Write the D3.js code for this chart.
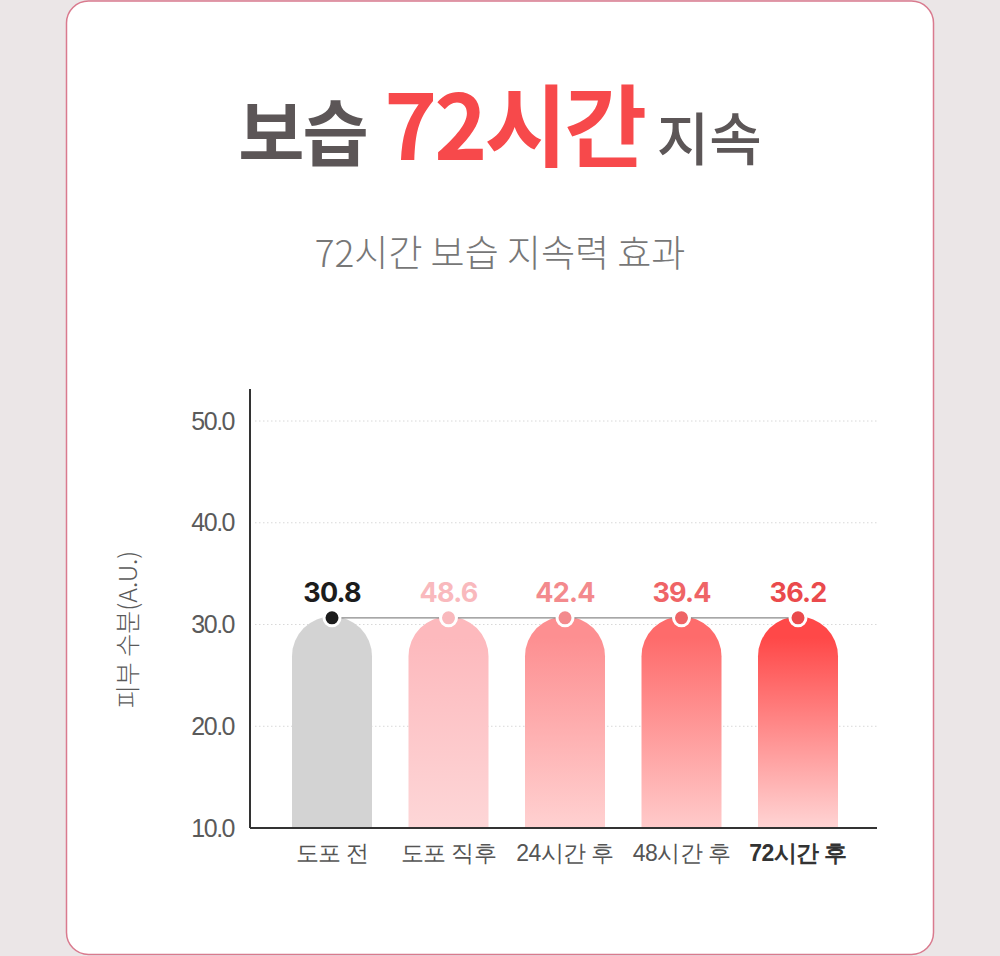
<!DOCTYPE html>
<html>
<head>
<meta charset="utf-8">
<script src="https://cdn.jsdelivr.net/npm/d3@7"></script>
<style>
  html, body { margin: 0; padding: 0; background: #ebe6e7; }
  svg { display: block; font-family: "Noto Sans CJK KR", "Noto Sans", sans-serif; }
</style>
</head>
<body>
<div id="chart"></div>
<script>
// data
const categories = ["도포 전", "도포 직후", "24시간 후", "48시간 후", "72시간 후"]
const labelValues = [30.8, 48.6, 42.4, 39.4, 36.2]
const barValues = [30.8, 30.8, 30.8, 30.8, 30.8]
const yTicks = [10, 20, 30, 40, 50]
const topColors = ["#d3d3d3", "#fdb9bd", "#fd8f91", "#fe6b6b", "#ff4848"]
const bottomColors = ["#d3d3d3", "#fdd6d7", "#ffd1d1", "#ffcaca", "#ffd4d4"]
const labelColors = ["#1c1c1c", "#f9b9bd", "#f38a8d", "#ef6466", "#ea4a4c"]

const width = 1000, height = 956
const margin = ({top: 421, right: 123, bottom: 128, left: 250})
const barWidth = 80

const svg = d3.select("#chart").append("svg")
    .attr("width", width)
    .attr("height", height)

var defs = svg.append("defs")

// page background + card
svg.append("rect")
    .attr("x", 0).attr("y", 0)
    .attr("width", width).attr("height", height)
    .attr("fill", "#ebe6e7")
svg.append("rect")
    .attr("x", 66.5).attr("y", 1)
    .attr("width", 867).attr("height", 953.5)
    .attr("rx", 22)
    .attr("fill", "#ffffff")
    .attr("stroke", "#d97a8e")
    .attr("stroke-width", 1.5)

// title
var title = svg.append("text")
    .attr("x", 500)
    .attr("y", 160)
    .attr("text-anchor", "middle")
    .attr("font-weight", 700)
title.append("tspan").text("보습").attr("fill", "#5c5657").attr("font-size", 72).attr("letter-spacing", -2)
title.append("tspan").text(" 72시간").attr("fill", "#f7494b").attr("font-size", 90).attr("letter-spacing", -3)
title.append("tspan").text(" 지속").attr("fill", "#5c5657").attr("font-size", 57).attr("font-weight", 500)

svg.append("text")
    .attr("x", 500)
    .attr("y", 267)
    .attr("text-anchor", "middle")
    .attr("font-size", 37)
    .attr("font-weight", 300)
    .attr("fill", "#777777")
    .text("72시간 보습 지속력 효과")

// scales
var x = d3.scaleBand()
    .domain(categories)
    .range([margin.left + 23.75, margin.left + 23.75 + 116.5 * categories.length])
var y = d3.scaleLinear()
    .domain([10, 50])
    .range([height - margin.bottom, margin.top])

// grid
svg.append("g")
    .selectAll("line")
    .data(yTicks.filter(d => d > 10))
    .join("line")
    .attr("x1", margin.left + 5)
    .attr("x2", width - margin.right)
    .attr("y1", d => y(d))
    .attr("y2", d => y(d))
    .attr("stroke", "#d8d8d8")
    .attr("stroke-width", 1)
    .attr("stroke-dasharray", "1.5,2.5")

// y axis
var yAxis = g => g
    .attr("transform", `translate(${margin.left},0)`)
    .call(d3.axisLeft(y).tickValues(yTicks).tickFormat(d3.format(".1f")).tickSize(0).tickPadding(16))
    .call(g => g.select(".domain").attr("stroke", "#333").attr("stroke-width", 2)
        .attr("d", `M0,${margin.top - 32}V${height - margin.bottom}`))
    .call(g => g.selectAll("text")
        .attr("font-size", 25)
        .attr("font-weight", 300)
        .attr("fill", "#5a5a5a")
        .attr("letter-spacing", -1.5))
svg.append("g").call(yAxis)

svg.append("text")
    .attr("transform", `translate(137,${y(30) + 5}) rotate(-90)`)
    .attr("text-anchor", "middle")
    .attr("font-size", 25)
    .attr("font-weight", 300)
    .attr("fill", "#5a5a5a")
    .text("피부 수분(A.U.)")

// gradients
categories.forEach(function(c, i) {
    var grad = defs.append("linearGradient")
        .attr("id", "grad" + i)
        .attr("x1", 0).attr("y1", 0).attr("x2", 0).attr("y2", 1)
    grad.append("stop").attr("offset", "10%").attr("stop-color", topColors[i])
    grad.append("stop").attr("offset", "100%").attr("stop-color", bottomColors[i])
})

// bars with round tops
var bars = svg.append("g")
    .selectAll("path")
    .data(categories)
    .join("path")
    .attr("d", function(d, i) {
        var cx = x(d) + x.bandwidth() / 2
        var x0 = cx - barWidth / 2, x1 = cx + barWidth / 2
        var r = barWidth / 2
        var top = y(barValues[i])
        var bottom = y(10)
        return `M${x0},${bottom}V${top + r}A${r},${r} 0 0 1 ${x1},${top + r}V${bottom}Z`
    })
    .attr("fill", (d, i) => `url(#grad${i})`)

// x axis
var xAxis = g => g
    .attr("transform", `translate(0,${y(10)})`)
    .call(d3.axisBottom(x).tickSize(0).tickPadding(17))
    .call(g => g.select(".domain").attr("stroke", "#333").attr("stroke-width", 2)
        .attr("d", `M${margin.left},0H${width - margin.right}`))
    .call(g => g.selectAll("text")
        .attr("font-size", 23)
        .attr("letter-spacing", -0.6)
        .attr("font-weight", (d, i) => i === categories.length - 1 ? 700 : 400)
        .attr("fill", (d, i) => i === categories.length - 1 ? "#333" : "#555"))
svg.append("g").call(xAxis)

// connecting line
var line = d3.line()
    .x((d, i) => x(categories[i]) + x.bandwidth() / 2)
    .y(d => y(d) + 1.5)
svg.append("path")
    .datum(barValues)
    .attr("d", line)
    .attr("fill", "none")
    .attr("stroke", "#8a8a8a")
    .attr("stroke-width", 1.3)

// dots
svg.append("g")
    .selectAll("circle")
    .data(barValues)
    .join("circle")
    .attr("cx", (d, i) => x(categories[i]) + x.bandwidth() / 2)
    .attr("cy", d => y(d) + 1.5)
    .attr("r", 8)
    .attr("fill", (d, i) => labelColors[i])
    .attr("stroke", "#fff")
    .attr("stroke-width", 3)

// value labels
svg.append("g")
    .selectAll("text")
    .data(labelValues)
    .join("text")
    .attr("x", (d, i) => x(categories[i]) + x.bandwidth() / 2)
    .attr("y", (d, i) => y(barValues[i]) - 14)
    .attr("text-anchor", "middle")
    .attr("font-size", 27)
    .attr("font-weight", 700)
    .attr("letter-spacing", -0.8)
    .attr("font-family", "Inter, 'Noto Sans CJK KR', sans-serif")
    .attr("fill", (d, i) => labelColors[i])
    .text(d => d3.format(".1f")(d))
</script>
</body>
</html>
